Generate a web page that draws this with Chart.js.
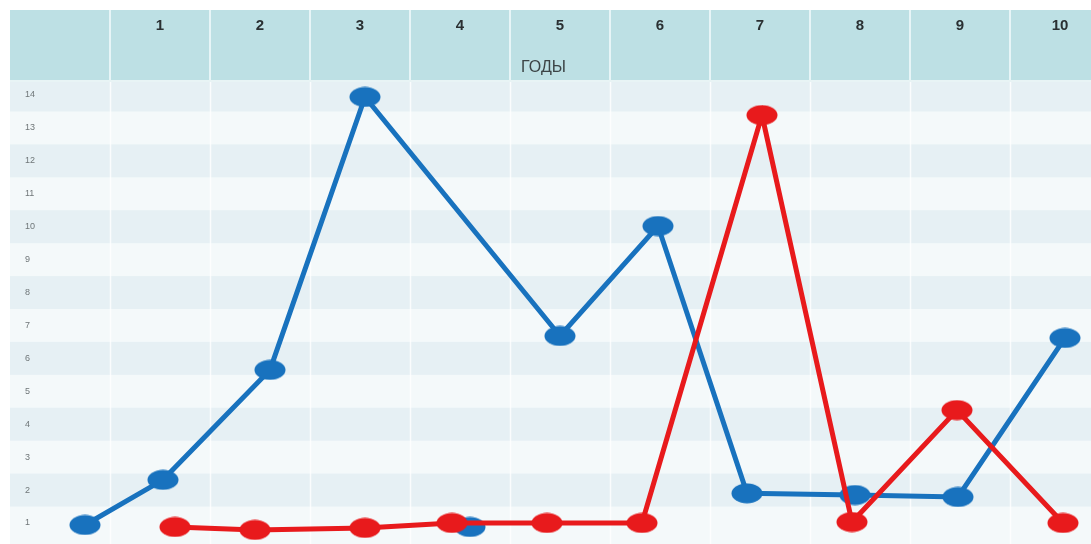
<!DOCTYPE html>
<html>
<head>
<meta charset="utf-8">
<script src="https://cdn.jsdelivr.net/npm/chart.js@4.4.1/dist/chart.umd.min.js"></script>
<style>
  html, body { margin: 0; padding: 0; background: #ffffff; overflow: hidden; }
  canvas { display: block; }
</style>
</head>
<body>
<canvas id="chart" width="1091" height="544"></canvas>
<script>
// Years shown in the header
const years = [1, 2, 3, 4, 5, 6, 7, 8, 9, 10];
const yTicks = [1, 2, 3, 4, 5, 6, 7, 8, 9, 10, 11, 12, 13, 14];
const axisTitle = 'ГОДЫ';

// Blue series (line)
const blueX = [0.25, 1.03, 2.1, 3.05, 5.0, 5.98, 6.87, 7.95, 8.98, 10.05];
const blueY = [0.94, 2.31, 5.65, 13.94, 6.68, 10.02, 1.9, 1.85, 1.79, 6.62];
// Blue marker standing apart from the line
const blueLoneX = [4.1];
const blueLoneY = [0.88];

// Red series
const redX = [1.15, 1.95, 3.05, 3.92, 4.87, 5.82, 7.02, 7.92, 8.97, 10.03];
const redY = [0.88, 0.79, 0.85, 1.0, 1.0, 1.0, 13.39, 1.03, 4.43, 1.0];

const BLUE = '#1872be';
const RED = '#e81a1c';

function pts(xs, ys) { return xs.map((x, i) => ({ x: x, y: ys[i] })); }

// Oval marker image
function oval(color) {
  const c = document.createElement('canvas');
  c.width = 32; c.height = 21;
  const g = c.getContext('2d');
  g.fillStyle = color;
  g.beginPath();
  g.ellipse(16, 10.5, 15.5, 10, 0, 0, Math.PI * 2);
  g.fill();
  return c;
}
const blueDot = oval(BLUE);
const redDot = oval(RED);

// Background: header strip, column dividers, row bands
const backdrop = {
  id: 'backdrop',
  beforeDraw(chart) {
    const { ctx, chartArea: a, scales } = chart;
    const xs = scales.x, ys = scales.y;
    ctx.save();

    // header strip
    ctx.fillStyle = '#bde0e4';
    ctx.fillRect(xs.left, xs.top, xs.right - xs.left, xs.bottom - xs.top);
    ctx.strokeStyle = 'rgba(235,247,248,0.9)';
    ctx.lineWidth = 2;
    years.forEach(v => {
      const px = Math.round(xs.getPixelForValue(v - 0.5));
      ctx.beginPath();
      ctx.moveTo(px, xs.top);
      ctx.lineTo(px, xs.bottom);
      ctx.stroke();
    });
    ctx.fillStyle = '#e8f4f5';
    ctx.fillRect(xs.left, xs.bottom - 2, xs.right - xs.left, 2);
    // axis title under the year numbers
    ctx.fillStyle = '#3c4446';
    ctx.font = '16px "Liberation Sans", Arial, sans-serif';
    ctx.textAlign = 'center';
    ctx.textBaseline = 'middle';
    ctx.fillText(axisTitle, (xs.left + xs.right) / 2 - 7, xs.top + 58);

    // row bands
    ctx.beginPath();
    ctx.rect(a.left, a.top, a.right - a.left, a.bottom - a.top);
    ctx.clip();
    ctx.fillStyle = '#f4f9fa';
    ctx.fillRect(a.left, a.top, a.right - a.left, a.bottom - a.top);
    yTicks.forEach(v => {
      if (v % 2 === 0) {
        const t = ys.getPixelForValue(v + 0.5);
        const b = ys.getPixelForValue(v - 0.5);
        ctx.fillStyle = '#e6f0f4';
        ctx.fillRect(a.left, t, a.right - a.left, b - t);
      }
    });
    // faint column lines in the plot
    ctx.strokeStyle = 'rgba(255,255,255,0.8)';
    ctx.lineWidth = 1.5;
    years.forEach(v => {
      const px = Math.round(xs.getPixelForValue(v - 0.5)) + 0.5;
      ctx.beginPath();
      ctx.moveTo(px, a.top);
      ctx.lineTo(px, a.bottom);
      ctx.stroke();
    });
    ctx.restore();
  }
};

new Chart(document.getElementById('chart'), {
  type: 'line',
  data: {
    datasets: [
      {
        label: 'red',
        data: pts(redX, redY),
        borderColor: RED,
        backgroundColor: RED,
        borderWidth: 5,
        pointStyle: redDot,
        pointRadius: 10,
        clip: false,
        order: 0
      },
      {
        label: 'blue',
        data: pts(blueX, blueY),
        borderColor: BLUE,
        backgroundColor: BLUE,
        borderWidth: 5,
        pointStyle: blueDot,
        pointRadius: 10,
        clip: false,
        order: 1
      },
      {
        label: 'blue point',
        data: pts(blueLoneX, blueLoneY),
        showLine: false,
        borderColor: BLUE,
        backgroundColor: BLUE,
        pointStyle: blueDot,
        pointRadius: 10,
        clip: false,
        order: 2
      }
    ]
  },
  options: {
    responsive: false,
    animation: false,
    devicePixelRatio: 1,
    layout: { autoPadding: false, padding: { top: 10, left: 10, right: 0, bottom: 0 } },
    plugins: { legend: { display: false }, tooltip: { enabled: false } },
    scales: {
      x: {
        type: 'linear',
        position: 'top',
        min: -0.5,
        max: 10.31,
        afterBuildTicks(scale) { scale.ticks = years.map(v => ({ value: v })); },
        afterFit(scale) {
          scale.height = 72;
          scale.paddingLeft = 0;
          scale.paddingRight = 0;
        },
        grid: { display: false, drawTicks: false },
        border: { display: false },
        ticks: {
          padding: 47,
          maxRotation: 0,
          color: '#2a3032',
          font: { family: '"Liberation Sans", Arial, sans-serif', size: 15, weight: 'bold' }
        }
      },
      y: {
        type: 'linear',
        min: 0.362,
        max: 14.395,
        afterBuildTicks(scale) { scale.ticks = yTicks.map(v => ({ value: v })); },
        afterFit(scale) {
          scale.width = 0;
          scale.paddingTop = 0;
          scale.paddingBottom = 0;
        },
        grid: { display: false, drawTicks: false },
        border: { display: false },
        ticks: {
          mirror: true,
          padding: 15,
          color: '#6f7678',
          font: { family: '"Liberation Sans", Arial, sans-serif', size: 9 }
        }
      }
    }
  },
  plugins: [backdrop]
});
</script>
</body>
</html>
